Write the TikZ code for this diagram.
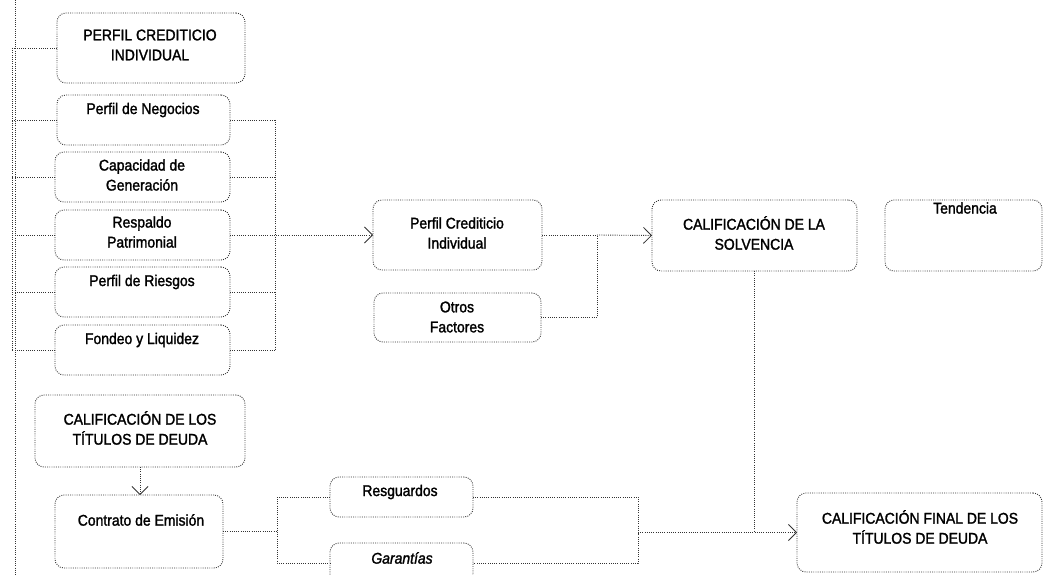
\documentclass[tikz,border=0pt]{standalone}
\usepackage{fontspec}
\setmainfont{Liberation Sans}[FakeStretch=0.9,FakeBold=1.6]
\usetikzlibrary{arrows.meta,calc}
\begin{document}
\begin{tikzpicture}[x=1pt,y=-1pt,
 box/.style={draw=black!80, line width=0.9pt, dash pattern=on 0.9pt off 1.3pt, rounded corners=9pt, inner sep=0pt, outer sep=0pt},
 conn/.style={draw=black!80, line width=0.9pt, dash pattern=on 0.9pt off 1.3pt},
 arr/.style={conn, -{Straight Barb[length=8pt,width=16pt,line width=0.8pt]}},
 txt/.style={font=\fontsize{15.5}{20}\selectfont, align=center, inner sep=0pt, text=black}]
\useasboundingbox (0,0) rectangle (1044,575);
\clip (0,0) rectangle (1044,575);

% boxes
\node[box, minimum width=188, minimum height=70] (pci)   at (151,48) {};
\node[box, minimum width=173, minimum height=50] (pn)    at (143.5,120) {};
\node[box, minimum width=175, minimum height=50] (cap)   at (142.5,177) {};
\node[box, minimum width=175, minimum height=50] (resp)  at (142.5,235) {};
\node[box, minimum width=175, minimum height=50] (ries)  at (142.5,292) {};
\node[box, minimum width=175, minimum height=50] (fon)   at (142.5,350) {};
\node[box, minimum width=169, minimum height=70] (pcind) at (457.5,235) {};
\node[box, minimum width=167, minimum height=49] (otros) at (457.5,317.5) {};
\node[box, minimum width=205, minimum height=71] (solv)  at (754.5,235.5) {};
\node[box, minimum width=157, minimum height=71] (tend)  at (963.5,235.5) {};
\node[box, minimum width=210, minimum height=72] (tit)   at (140,431) {};
\node[box, minimum width=168, minimum height=73] (con)   at (139,531.5) {};
\node[box, minimum width=143, minimum height=40] (resg)  at (401.5,497) {};
\node[box, minimum width=143, minimum height=40] (gar)   at (401.5,563) {};
\node[box, minimum width=245, minimum height=79] (fin)   at (919.5,532.5) {};

% texts
\node[txt] (t-pci)   at (150,45)  {PERFIL CREDITICIO\\INDIVIDUAL};
\node[txt] (t-pn)    at (143,110) {Perfil de Negocios};
\node[txt] (t-cap)   at (142,175) {Capacidad de\\Generación};
\node[txt] (t-resp)  at (142,232) {Respaldo\\Patrimonial};
\node[txt] (t-ries)  at (142,282) {Perfil de Riesgos};
\node[txt] (t-fon)   at (142,340) {Fondeo y Liquidez};
\node[txt] (t-pcind) at (457,233) {Perfil Crediticio\\Individual};
\node[txt] (t-otros) at (457,317) {Otros\\Factores};
\node[txt] (t-solv)  at (754,233) {CALIFICACIÓN DE LA\\SOLVENCIA};
\node[txt] (t-tend)  at (965,208) {Tendencia};
\node[txt] (t-tit)   at (140,428) {CALIFICACIÓN DE LOS\\TÍTULOS DE DEUDA};
\node[txt] (t-con)   at (141,520) {Contrato de Emisión};
\node[txt] (t-resg)  at (400,492) {Resguardos};
\node[txt,font=\fontsize{15.5}{20}\selectfont\itshape] (t-gar) at (402,558) {Garantías};
\node[txt] (t-fin)   at (920,527) {CALIFICACIÓN FINAL DE LOS\\TÍTULOS DE DEUDA};

% page-edge line
\draw[conn] (15,0) -- (15,575);

% left bracket
\coordinate (lbt) at (12,48);
\coordinate (lbb) at (12,350);
\draw[conn] (lbt) -- (lbb);
\foreach \n in {pci,pn,cap,resp,ries,fon}
  \draw[conn] (\n.west) -- (\n.west -| lbt);

% right bracket
\coordinate (rbt) at (275,120);
\coordinate (rbb) at (275,350);
\draw[conn] (rbt) -- (rbb);
\foreach \n in {pn,cap,ries,fon}
  \draw[conn] (\n.east) -- (\n.east -| rbt);
\draw[arr] (resp.east) -- (pcind.west);

% to solvency
\coordinate (j1) at (597,235);
\draw[conn] (pcind.east) -- (j1);
\draw[conn] (otros.east) -| (j1);
\draw[arr] (j1) -- (solv.west);

% solvency down
\draw[conn] (solv.south) -- (solv.south |- fin.west);

% titles to contract
\draw[arr] (tit.south) -- (tit.south |- con.north);

% contract bracket
\coordinate (lb2) at (277,531.5);
\draw[conn] (con.east) -- (lb2);
\draw[conn] (resg.west) -| (lb2) |- (gar.west);

% guarantees bracket
\coordinate (rb2) at (638,532.5);
\draw[conn] (resg.east) -| (rb2) |- (gar.east);
\draw[arr] (rb2) -- (fin.west);
\end{tikzpicture}
\end{document}
